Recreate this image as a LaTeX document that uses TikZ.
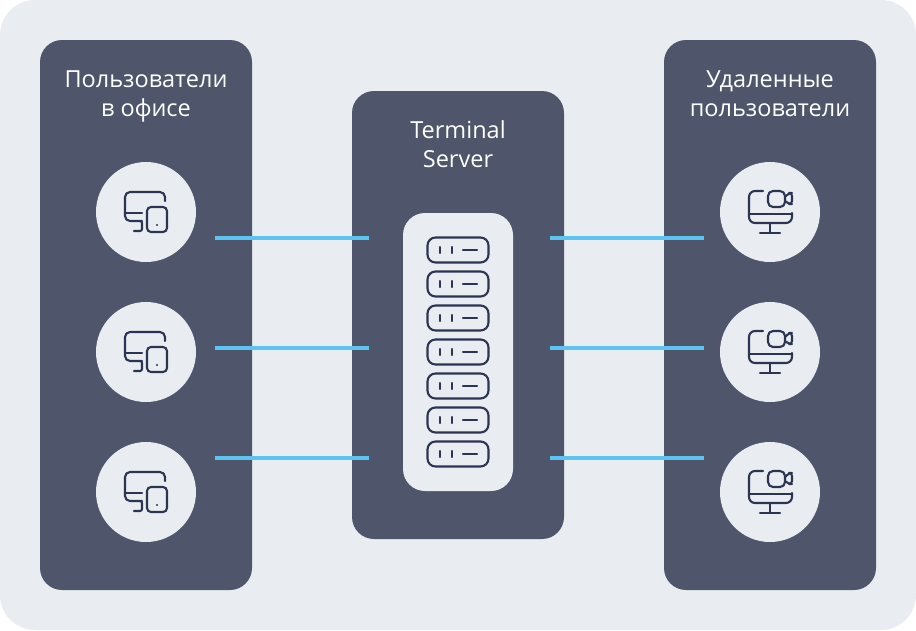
\documentclass[tikz,border=0pt]{standalone}
\usepackage{fontspec}
\setmainfont{Open Sans}
\usetikzlibrary{positioning}

\definecolor{pagebg}{HTML}{E9ECF1}
\definecolor{panelbg}{HTML}{4F566B}
\definecolor{linkblue}{HTML}{5BC4F1}
\definecolor{icondark}{HTML}{2B3552}

\tikzset{
  panel/.style={fill=panelbg, rounded corners=22pt, minimum width=212pt, inner sep=0pt},
  title/.style={text=white, align=center, inner sep=0pt, font=\fontsize{23.5}{29}\selectfont},
  usercircle/.style={circle, fill=pagebg, minimum size=100pt, inner sep=0pt},
  link/.style={draw=linkblue, line width=3.5pt},
  iconline/.style={draw=icondark, line width=2.1pt, line cap=round, line join=round},
  pics/deviceicon/.style={code={
    \draw [iconline, rounded corners=5pt] (19,-11) -- (19,-20) -- (-21,-20) -- (-21,9) -- (-4,9);
    \draw [iconline, rounded corners=2pt] (-6,9) -- (-4,9) -- (-4,19) -- (-12,19);
    \draw [iconline] (-21,1) -- (-4,1);
    \draw [iconline, rounded corners=4pt] (1,-5) rectangle (21,20);
    \fill [icondark] (11,13) circle [radius=1.2];
  }},
  pics/videoicon/.style={code={
    \draw [iconline, rounded corners=6pt] (-7,-21) -- (-21,-21) -- (-21,11) -- (22,11) -- (22,1);
    \draw [iconline] (-21,2) -- (22,2);
    \draw [iconline] (0,11) -- (0,21);
    \draw [iconline] (-10,21) -- (10,21);
    \draw [iconline, rounded corners=5pt] (-2,-21) rectangle (15,-5);
    \draw [iconline, rounded corners=3pt] (15,-15) -- (19,-19) -- (22,-19) -- (22,-8) -- (19,-8) -- (15,-11);
  }},
  pics/rackicon/.style={code={
    \draw [iconline, rounded corners=8pt] (-30.5,-12.5) rectangle (30.5,12.5);
    \draw [iconline] (-18,-3) -- (-18,3);
    \draw [iconline] (-6,-3) -- (-6,3);
    \draw [iconline] (5,0) -- (19,0);
  }}
}

\begin{document}
\begin{tikzpicture}[x=1pt, y=-1pt]
\useasboundingbox (0,0) rectangle (916,630);
\fill [pagebg, rounded corners=35pt] (0,0) rectangle (916,630);

% panels
\node [panel, minimum height=550pt] (office) at (146,315) {};
\node [panel, minimum height=448pt] (server) at (458,315) {};
\node [panel, minimum height=550pt] (remote) at (770,315) {};
\node [fill=pagebg, rounded corners=22pt, minimum width=110pt, minimum height=278pt, inner sep=0pt] (rackbox) at (458,352) {};

% titles
\node [title] (officetitle) at (146,96) {Пользователи\\в офисе};
\node [title] (servertitle) at (458,144) {Terminal\\Server};
\node [title] (remotetitle) at (770,94) {Удаленные\\пользователи};

% users
\node [usercircle] (office1) at (146,212) {};
\node [usercircle] (office2) at (146,352) {};
\node [usercircle] (office3) at (146,492) {};
\node [usercircle] (remote1) at (770,212) {};
\node [usercircle] (remote2) at (770,352) {};
\node [usercircle] (remote3) at (770,492) {};
\pic at (office1) {deviceicon};
\pic at (office2) {deviceicon};
\pic at (office3) {deviceicon};
\pic at (remote1) {videoicon};
\pic at (remote2) {videoicon};
\pic at (remote3) {videoicon};

% server racks
\pic at (458,250) {rackicon};
\pic at (458,284) {rackicon};
\pic at (458,318) {rackicon};
\pic at (458,352) {rackicon};
\pic at (458,386) {rackicon};
\pic at (458,420) {rackicon};
\pic at (458,454) {rackicon};

% links
\coordinate (officeout1) at (215,238);
\coordinate (officeout2) at (215,348);
\coordinate (officeout3) at (215,458);
\coordinate (serverleft1) at (369,238);
\coordinate (serverleft2) at (369,348);
\coordinate (serverleft3) at (369,458);
\coordinate (serverright1) at (550,238);
\coordinate (serverright2) at (550,348);
\coordinate (serverright3) at (550,458);
\coordinate (remotein1) at (704,238);
\coordinate (remotein2) at (704,348);
\coordinate (remotein3) at (704,458);
\draw [link] (officeout1) -- (serverleft1);
\draw [link] (officeout2) -- (serverleft2);
\draw [link] (officeout3) -- (serverleft3);
\draw [link] (serverright1) -- (remotein1);
\draw [link] (serverright2) -- (remotein2);
\draw [link] (serverright3) -- (remotein3);
\end{tikzpicture}
\end{document}
